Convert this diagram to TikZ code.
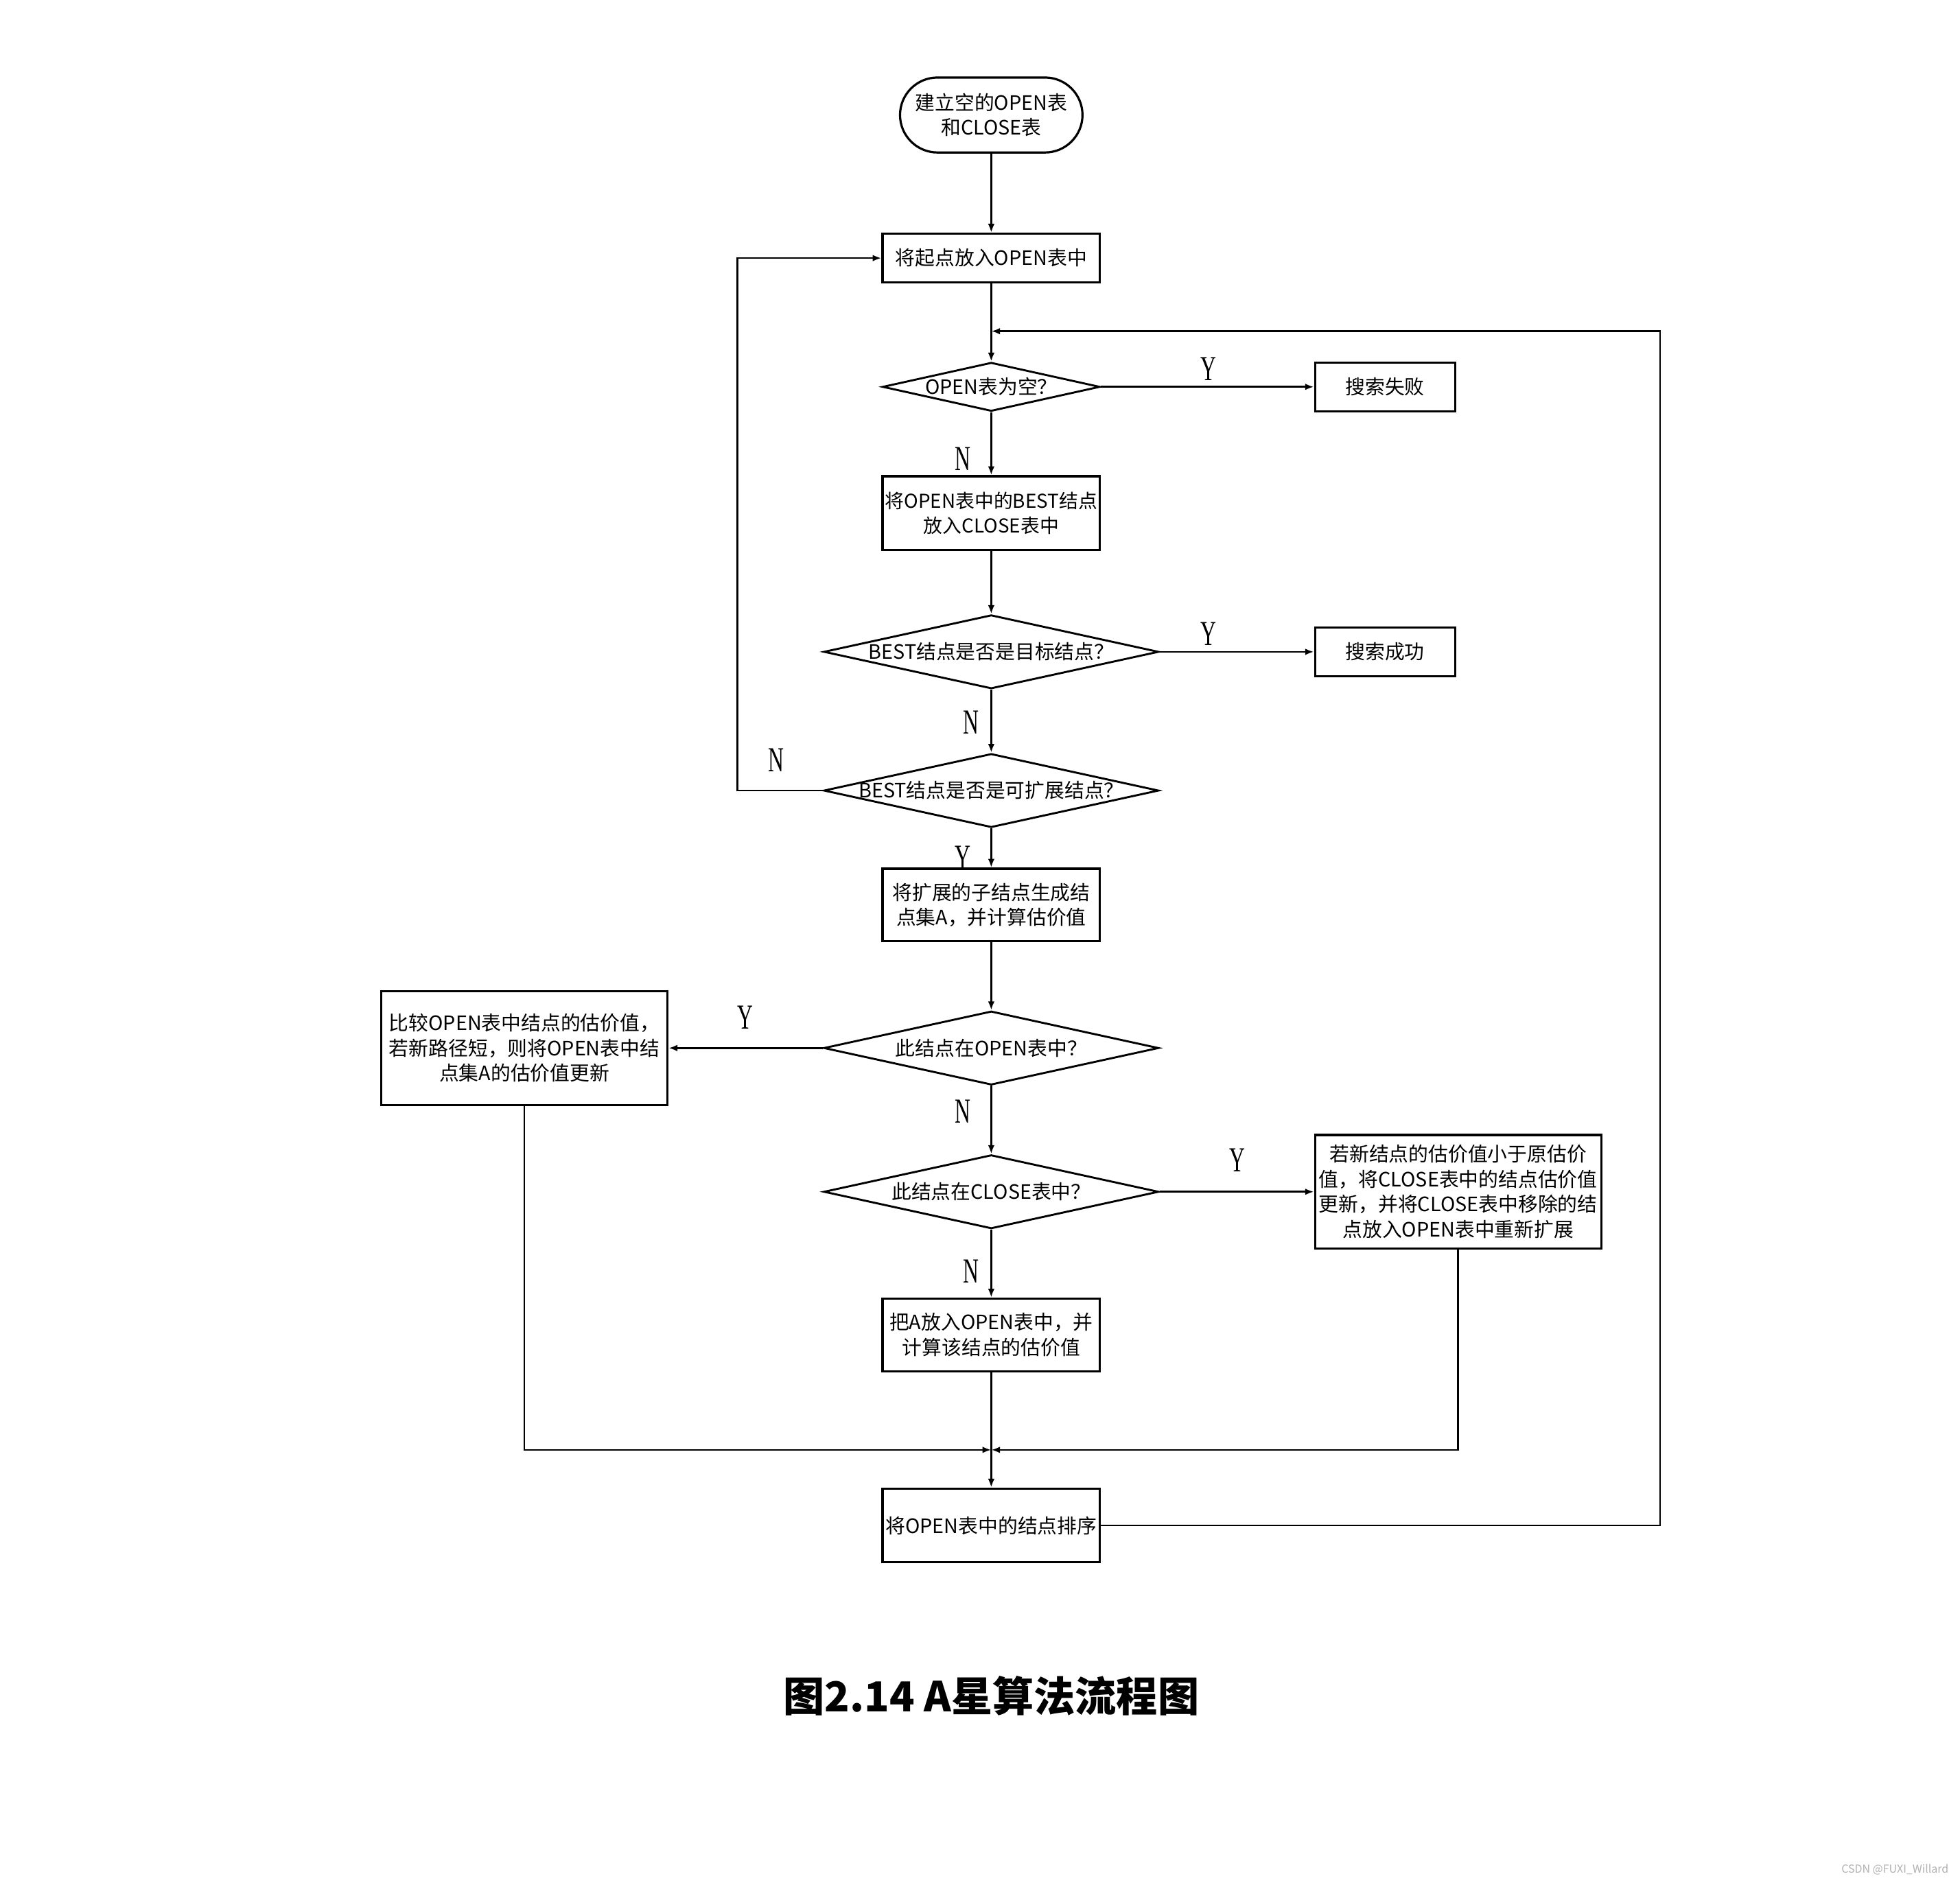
\documentclass[tikz,border=0pt]{standalone}
\usepackage{fontspec}
\usetikzlibrary{shapes.geometric,arrows.meta}
\newfontfamily\cjk{Noto Sans CJK SC}
\newfontfamily\ynfont[FakeStretch=0.62]{Liberation Serif}
\begin{document}
\begin{tikzpicture}[x=0.02cm, y=-0.02cm,
  txt/.style={font=\cjk\fontsize{9}{11.4}\selectfont},
  box/.style={txt, draw, line width=1pt, align=center, inner sep=1pt,
    minimum width=3.48cm, minimum height=1.18cm},
  dec/.style={draw, diamond, line width=0.9pt, inner sep=0pt,
    minimum width=5.36cm, minimum height=1.18cm},
  yn/.style={font=\ynfont\fontsize{16}{16}\selectfont},
  wire/.style={line width=0.8pt},
  arr/.style={wire, -{Latex[length=4pt,width=3pt]}}]
  \useasboundingbox (0,0) rectangle (1568,1508);

  % main column
  \node[box, rounded corners=0.6cm, minimum width=2.92cm, minimum height=1.2cm]
    (start) at (793,92) {建立空的OPEN表\\和CLOSE表};
  \node[box, minimum height=0.78cm] (put) at (793,206.5) {将起点放入OPEN表中};
  \node[dec, minimum width=3.48cm, minimum height=0.78cm,
    label={[txt]center:OPEN表为空？}] (empty) at (793,309.5) {};
  \node[box, inner sep=0pt, font=\cjk\fontsize{8.7}{11.4}\selectfont]
    (best) at (793,410.5) {将OPEN表中的BEST结点\\放入CLOSE表中};
  \node[dec, label={[txt]center:BEST结点是否是目标结点？}] (goal) at (793,521.5) {};
  \node[dec, label={[txt]center:BEST结点是否是可扩展结点？}] (expand) at (793,632.5) {};
  \node[box, minimum height=1.16cm] (child) at (793,724) {将扩展的子结点生成结\\点集A，并计算估价值};
  \node[dec, label={[txt]center:此结点在OPEN表中？}] (inopen) at (793,838.5) {};
  \node[dec, label={[txt]center:此结点在CLOSE表中？}] (inclose) at (793,953.5) {};
  \node[box, minimum height=1.16cm] (add) at (793,1068) {把A放入OPEN表中，并\\计算该结点的估价值};
  \node[box] (sort) at (793,1220.5) {将OPEN表中的结点排序};

  % side boxes
  \node[box, minimum width=2.24cm, minimum height=0.78cm] (fail) at (1108,309.5) {搜索失败};
  \node[box, minimum width=2.24cm, minimum height=0.78cm] (succ) at (1108,521.5) {搜索成功};
  \node[box, minimum width=4.58cm, minimum height=1.82cm] (upopen) at (419.5,838.5)
    {比较OPEN表中结点的估价值，\\若新路径短，则将OPEN表中结\\点集A的估价值更新};
  \node[box, minimum width=4.58cm, minimum height=1.82cm] (upclose) at (1166.5,953.5)
    {若新结点的估价值小于原估价\\值，将CLOSE表中的结点估价值\\更新，并将CLOSE表中移除的结\\点放入OPEN表中重新扩展};

  \coordinate (back) at (793,265);
  \coordinate (backr) at (1328,265);
  \coordinate (loop) at (590,206.5);
  \coordinate (merge) at (793,1160);

  % connectors
  \draw[arr] (start) -- (put);
  \draw[arr] (put) -- (empty);
  \draw[arr] (empty) -- (fail);
  \draw[arr] (empty) -- (best);
  \draw[arr] (best) -- (goal);
  \draw[arr] (goal) -- (succ);
  \draw[arr] (goal) -- (expand);
  \draw[arr] (expand.west) -| (loop) -- (put);
  \draw[arr] (expand) -- (child);
  \draw[arr] (child) -- (inopen);
  \draw[arr] (inopen) -- (upopen);
  \draw[arr] (inopen) -- (inclose);
  \draw[arr] (inclose) -- (upclose);
  \draw[arr] (inclose) -- (add);
  \draw[arr] (upopen) |- (merge);
  \draw[arr] (upclose) |- (merge);
  \draw[wire] (add) -- (merge);
  \draw[arr] (merge) -- (sort);
  \draw[arr] (sort) -| (backr) -- (back);

  % Y / N
  \node[yn] (y1) at (967,295) {Y};
  \node[yn] (n1) at (770,367) {N};
  \node[yn] (y2) at (967,507) {Y};
  \node[yn] (n2) at (777,578) {N};
  \node[yn] (n3) at (621,608) {N};
  \node[yn] (y3) at (770,686) {Y};
  \node[yn] (y4) at (596,814) {Y};
  \node[yn] (n4) at (770,889) {N};
  \node[yn] (y5) at (990,928) {Y};
  \node[yn] (n5) at (777,1017) {N};

  \node[font=\cjk\bfseries\fontsize{18.8}{22}\selectfont] (cap) at (793,1357)
    {图2.14 A星算法流程图};
  \node[font=\cjk\fontsize{5}{6}\selectfont, text=gray!60] (wm) at (1516,1496)
    {CSDN @FUXI\_Willard};
\end{tikzpicture}
\end{document}
